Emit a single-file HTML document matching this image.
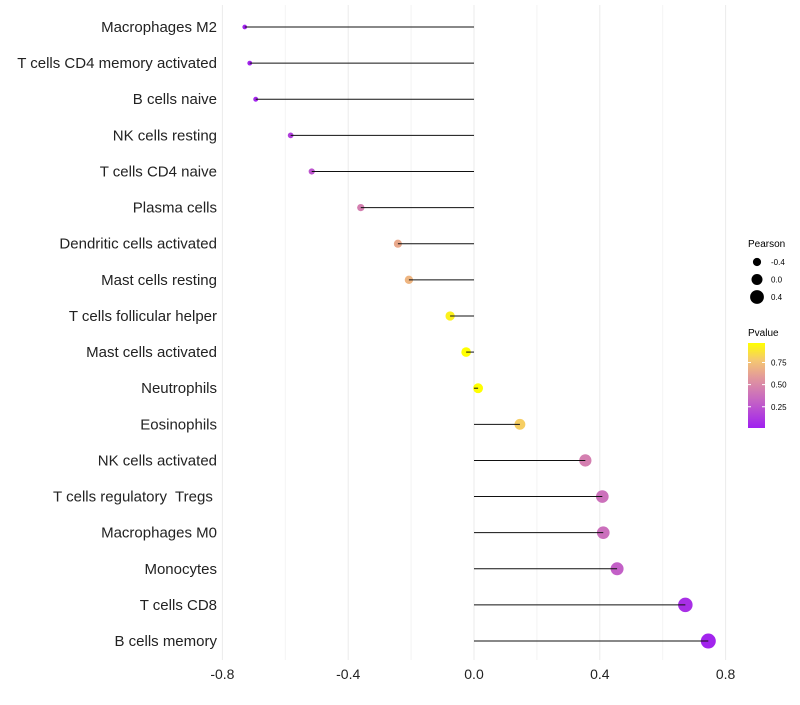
<!DOCTYPE html>
<html><head><meta charset="utf-8"><style>
body{margin:0;background:#fff;font-family:"Liberation Sans",sans-serif;}
svg text{font-family:"Liberation Sans",sans-serif;white-space:pre;}
</style></head><body>
<svg id="chart" width="800" height="700" xmlns="http://www.w3.org/2000/svg">
<defs><linearGradient id="pg" x1="0" y1="1" x2="0" y2="0">
<stop offset="0" stop-color="#A020F0"/><stop offset="0.35" stop-color="#C86AC0"/><stop offset="0.6" stop-color="#E39A9A"/><stop offset="0.8" stop-color="#F5C870"/><stop offset="1" stop-color="#FFFF00"/></linearGradient></defs>
<g id="grid"></g><g id="marks"></g><g id="axes"></g>
<g>
<text x="748" y="247" font-size="10">Pearson</text>
<g id="sizeLeg"></g>
<text x="748" y="336" font-size="10">Pvalue</text>
<rect x="748" y="343" width="17" height="85" fill="url(#pg)"/>
<g id="colLeg"></g>
</g>
</svg>
<script>
const categories=["Macrophages M2","T cells CD4 memory activated","B cells naive","NK cells resting","T cells CD4 naive","Plasma cells","Dendritic cells activated","Mast cells resting","T cells follicular helper","Mast cells activated","Neutrophils","Eosinophils","NK cells activated","T cells regulatory  Tregs ","Macrophages M0","Monocytes","T cells CD8","B cells memory"];
const pearson=[-0.729,-0.713,-0.694,-0.583,-0.516,-0.360,-0.242,-0.207,-0.076,-0.025,0.013,0.146,0.354,0.408,0.411,0.455,0.672,0.745];
const pvalues=[0.02,0.03,0.04,0.15,0.25,0.45,0.65,0.70,0.92,0.97,0.98,0.80,0.45,0.38,0.37,0.30,0.08,0.03];
const xTicks=[-0.8,-0.4,0.0,0.4,0.8];
const xTickLabels=["-0.8","-0.4","0.0","0.4","0.8"];
const xMinor=[-0.6,-0.2,0.2,0.6];
const sizeLegVals=[-0.4,0.0,0.4];
const colLegVals=[0.25,0.50,0.75];
const NS="http://www.w3.org/2000/svg";
const X=v=>474+v*314.5;
const Y=i=>27+i*36.12;
const R=v=>4.9+3.5*v;
const stops=[[0,[160,32,240]],[0.35,[200,106,192]],[0.6,[227,154,154]],[0.8,[245,200,112]],[1,[255,255,0]]];
function col(p){const t=Math.max(0,Math.min(1,(p-0.01)/0.96));for(let k=1;k<stops.length;k++){if(t<=stops[k][0]){const a=stops[k-1],b=stops[k],f=(t-a[0])/(b[0]-a[0]);return "rgb("+a[1].map((c,j)=>Math.round(c+(b[1][j]-c)*f)).join(",")+")";}}return "rgb(255,255,0)";}
function mk(tag,at,par){const e=document.createElementNS(NS,tag);for(const k in at)e.setAttribute(k,at[k]);par.appendChild(e);return e;}
const grid=document.getElementById('grid'),marks=document.getElementById('marks'),axes=document.getElementById('axes');
xMinor.forEach(v=>{const l=mk('line',{x1:X(v),x2:X(v),y1:5,y2:660,stroke:'#f4f4f4','stroke-width':1},grid);

});
xTicks.forEach((v,i)=>{const l=mk('line',{x1:X(v),x2:X(v),y1:5,y2:660,stroke:'#ebebeb','stroke-width':1},grid);


const t=mk('text',{x:X(v),y:679,'font-size':14,'text-anchor':'middle',fill:'#222'},axes);t.textContent=xTickLabels[i];

});
categories.forEach((c,i)=>{const y=Y(i);
const t=mk('text',{x:217,y:y+5,'font-size':15,'text-anchor':'end',fill:'#222'},axes);t.textContent=c;


const d=mk('circle',{cx:X(pearson[i]),cy:y,r:R(pearson[i]),fill:col(pvalues[i])},marks);


const s=mk('line',{x1:X(0),x2:X(pearson[i]),y1:y,y2:y,stroke:'#111','stroke-width':1},marks);

});
const sl=document.getElementById('sizeLeg');
sizeLegVals.forEach((v,i)=>{const y=262+i*17.5;const c=mk('circle',{cx:757,cy:y,r:R(v)+0.6,fill:'#000'},sl);


const t=mk('text',{x:771,y:y+3,'font-size':8},sl);t.textContent=v.toFixed(1);

});
const cl=document.getElementById('colLeg');
colLegVals.forEach(v=>{const y=428-(v-0.01)/0.96*85;
mk('line',{x1:748,x2:751,y1:y,y2:y,stroke:'#fff'},cl);mk('line',{x1:762,x2:765,y1:y,y2:y,stroke:'#fff'},cl);
const t=mk('text',{x:771,y:y+3,'font-size':8},cl);t.textContent=v.toFixed(2);

});
</script>
</body></html>
